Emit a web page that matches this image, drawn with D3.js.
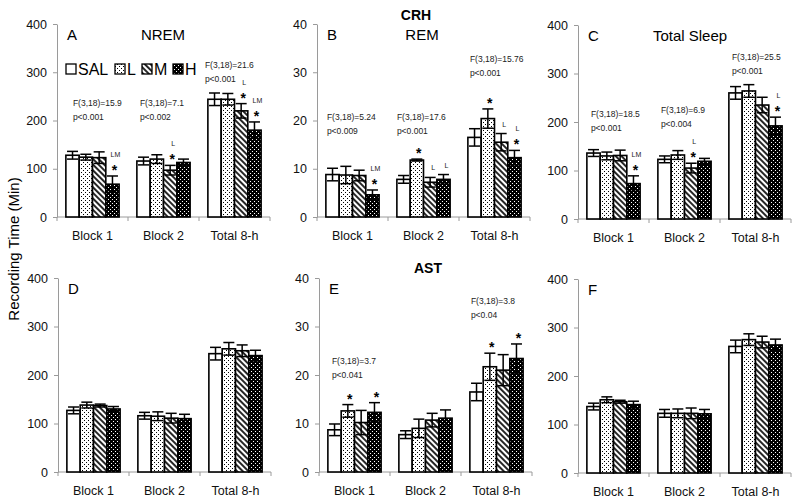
<!DOCTYPE html>
<html>
<head>
<meta charset="utf-8">
<script src="https://cdn.jsdelivr.net/npm/d3@7"></script>
<style>
  body { margin: 0; background: #fff; }
  svg { font-family: "Liberation Sans", Arial, sans-serif; }
</style>
</head>
<body>
<div id="chart"></div>
<script>
// ---- data ----
const groups = ["Block 1", "Block 2", "Total 8-h"];
const treatments = ["SAL", "L", "M", "H"];
const minTicks = [0, 100, 200, 300, 400];
const remTicks = [0, 10, 20, 30, 40];

// CRH
const crhNremMean  = [[128, 124, 123, 68], [116, 120, 97, 113], [244, 244, 220, 180]];
const crhNremErr   = [[8, 6, 12, 17], [8, 9, 10, 7], [13, 12, 15, 17]];
const crhRemMean   = [[8.8, 8.7, 8.6, 4.6], [7.8, 11.8, 7.2, 7.8], [16.5, 20.4, 15.5, 12.3]];
const crhRemErr    = [[1.3, 1.8, 1.1, 1.0], [0.8, 0.2, 1.0, 1.0], [1.8, 2.0, 1.8, 1.5]];
const crhSleepMean = [[136, 130, 131, 73], [123, 132, 105, 119], [260, 264, 235, 192]];
const crhSleepErr  = [[7, 8, 11, 16], [7, 9, 10, 6], [13, 13, 16, 18]];

// AST
const astNremMean  = [[127, 138, 137, 130], [116, 115, 111, 110], [244, 254, 250, 240]];
const astNremErr   = [[7, 6, 3, 5], [7, 9, 10, 9], [13, 13, 12, 11]];
const astRemMean   = [[8.7, 12.6, 10.2, 12.3], [7.7, 9.0, 10.7, 11.1], [16.5, 21.7, 21.0, 23.4]];
const astRemErr    = [[1.2, 1.3, 2.5, 2.0], [0.8, 1.9, 1.4, 1.7], [1.8, 2.8, 3.2, 3.0]];
const astSleepMean = [[137, 151, 147, 141], [123, 123, 123, 122], [261, 275, 270, 264]];
const astSleepErr  = [[7, 6, 3, 7], [8, 9, 11, 9], [13, 12, 12, 12]];

// ANOVA text per group
const crhNremStats  = [["F(3,18)=15.9", "p<0.001"], ["F(3,18)=7.1", "p<0.002"], ["F(3,18)=21.6", "p<0.001"]];
const crhRemStats   = [["F(3,18)=5.24", "p<0.009"], ["F(3,18)=17.6", "p<0.001"], ["F(3,18)=15.76", "p<0.001"]];
const crhSleepStats = [["F(3,18)=18.5", "p<0.001"], ["F(3,18)=6.9", "p<0.004"], ["F(3,18)=25.5", "p<0.001"]];
const astRemStats   = [["F(3,18)=3.7", "p<0.041"], null, ["F(3,18)=3.8", "p<0.04"]];

// significance marks per bar (letters = differs from those groups, * = differs from SAL)
const crhNremSig  = [["", "", "", "LM*"], ["", "", "L*", ""], ["", "", "L*", "LM*"]];
const crhRemSig   = [["", "", "", "LM*"], ["", "*", "L", "L"], ["", "*", "L", "L*"]];
const crhSleepSig = [["", "", "", "LM*"], ["", "", "L*", ""], ["", "", "", "L*"]];
const astRemSig   = [["", "*", "", "*"], ["", "", "", ""], ["", "*", "", "*"]];

// ---- layout ----
const panelW = 213;
const panels = [
  { letter: "A", name: "NREM", mean: crhNremMean, err: crhNremErr, ticks: minTicks,
    left: 57, top: 24, h: 193, nameX: 106, stats: crhNremStats, statTop: [79, 79, 41], statDx: [7, 3, -3], sig: crhNremSig },
  { letter: "B", name: "REM", mean: crhRemMean, err: crhRemErr, ticks: remTicks,
    left: 317, top: 24, h: 193, nameX: 105, stats: crhRemStats, statTop: [93, 93, 35], statDx: [1, 0, 2], sig: crhRemSig },
  { letter: "C", name: "Total Sleep", mean: crhSleepMean, err: crhSleepErr, ticks: minTicks,
    left: 578, top: 25, h: 194, nameX: 112, stats: crhSleepStats, statTop: [89, 85, 32], statDx: [4, 3, 3], sig: crhSleepSig },
  { letter: "D", name: "", mean: astNremMean, err: astNremErr, ticks: minTicks,
    left: 58, top: 278, h: 194 },
  { letter: "E", name: "", mean: astRemMean, err: astRemErr, ticks: remTicks,
    left: 319, top: 278, h: 194, stats: astRemStats, statTop: [83, 0, 23], statDx: [4, 0, 1], sig: astRemSig },
  { letter: "F", name: "", mean: astSleepMean, err: astSleepErr, ticks: minTicks,
    left: 578, top: 279, h: 194 }
];

const axisColor = "#9a9a9a";
const fills = { SAL: "#fff", L: "url(#pDots)", M: "url(#pHatch)", H: "url(#pDark)" };

const svg = d3.select("#chart").append("svg")
    .attr("width", 800)
    .attr("height", 503);

// ---- patterns ----
const defs = svg.append("defs");

let pDots = defs.append("pattern").attr("id", "pDots")
    .attr("patternUnits", "userSpaceOnUse").attr("width", 4).attr("height", 4);
pDots.append("rect").attr("width", 4).attr("height", 4).attr("fill", "#fff");
pDots.append("rect").attr("x", 0).attr("y", 0).attr("width", 1).attr("height", 1).attr("fill", "#000");
pDots.append("rect").attr("x", 2).attr("y", 2).attr("width", 1).attr("height", 1).attr("fill", "#000");

let pHatch = defs.append("pattern").attr("id", "pHatch")
    .attr("patternUnits", "userSpaceOnUse").attr("width", 4).attr("height", 4)
    .attr("patternTransform", "rotate(-45)");
pHatch.append("rect").attr("width", 4).attr("height", 4).attr("fill", "#fff");
pHatch.append("line").attr("x1", 2).attr("y1", 0).attr("x2", 2).attr("y2", 4)
    .attr("stroke", "#000").attr("stroke-width", 1.7);

let pDark = defs.append("pattern").attr("id", "pDark")
    .attr("patternUnits", "userSpaceOnUse").attr("width", 4).attr("height", 4);
pDark.append("rect").attr("width", 4).attr("height", 4).attr("fill", "#000");
pDark.append("rect").attr("x", 1).attr("y", 1).attr("width", 1).attr("height", 1).attr("fill", "#fff");
pDark.append("rect").attr("x", 3).attr("y", 3).attr("width", 1).attr("height", 1).attr("fill", "#fff");

// ---- panels ----
panels.forEach(p => drawPanel(p));

function drawPanel(p) {
    let g = svg.append("g").attr("transform", "translate(" + p.left + "," + p.top + ")");

    let x0 = d3.scaleBand().domain(groups).range([0, panelW]).paddingInner(0.25).paddingOuter(0.125);
    let x1 = d3.scaleBand().domain(treatments).range([0, x0.bandwidth()]);
    let y = d3.scaleLinear().domain([0, d3.max(p.ticks)]).range([p.h, 0]);

    // y axis
    let yAxis = d3.axisLeft(y).tickValues(p.ticks).tickSize(4).tickSizeOuter(0).tickPadding(6);
    let ya = g.append("g").attr("class", "y axis").call(yAxis);
    ya.select(".domain").attr("stroke", axisColor);
    ya.selectAll(".tick line").attr("stroke", axisColor);
    ya.selectAll(".tick text").attr("font-size", 12.5).attr("fill", "#111");

    // x axis with ticks at group boundaries
    let xa = g.append("g").attr("class", "x axis").attr("transform", "translate(0," + p.h + ")");
    xa.append("line").attr("x1", 0).attr("x2", panelW).attr("stroke", axisColor);
    xa.selectAll(".bound").data(d3.range(groups.length + 1)).enter().append("line")
        .attr("class", "bound")
        .attr("x1", i => i * x0.step()).attr("x2", i => i * x0.step())
        .attr("y1", 0).attr("y2", 4)
        .attr("stroke", axisColor);
    xa.selectAll(".glabel").data(groups).enter().append("text")
        .attr("class", "glabel")
        .attr("x", d => x0(d) + x0.bandwidth() / 2)
        .attr("y", 19)
        .attr("dy", "0.35em")
        .attr("text-anchor", "middle")
        .attr("font-size", 12.5)
        .attr("fill", "#111")
        .text(d => d);

    // bars
    let cells = [];
    p.mean.forEach((row, gi) => row.forEach((v, ti) => {
        cells.push({ group: groups[gi], trt: treatments[ti], value: v, err: p.err[gi][ti],
                     sig: p.sig ? p.sig[gi][ti] : "" });
    }));

    let bx = d => x0(d.group) + x1(d.trt);

    g.selectAll(".bar").data(cells).enter().append("rect")
        .attr("class", "bar")
        .attr("x", d => bx(d))
        .attr("y", d => y(d.value))
        .attr("width", x1.bandwidth())
        .attr("height", d => p.h - y(d.value))
        .attr("fill", d => fills[d.trt])
        .attr("stroke", "#000")
        .attr("stroke-width", 1.6);

    // error bars
    let eb = g.selectAll(".err").data(cells).enter().append("g").attr("class", "err")
        .attr("stroke", "#000").attr("stroke-width", 1.5);
    let cx = d => bx(d) + x1.bandwidth() / 2;
    eb.append("line")
        .attr("x1", cx).attr("x2", cx)
        .attr("y1", d => y(d.value + d.err)).attr("y2", d => y(d.value - d.err));
    eb.append("line")
        .attr("x1", d => cx(d) - 5.5).attr("x2", d => cx(d) + 5.5)
        .attr("y1", d => y(d.value + d.err)).attr("y2", d => y(d.value + d.err));
    eb.append("line")
        .attr("x1", d => cx(d) - 5.5).attr("x2", d => cx(d) + 5.5)
        .attr("y1", d => y(d.value - d.err)).attr("y2", d => y(d.value - d.err));

    // significance marks
    let marked = cells.filter(d => d.sig);
    marked.forEach(d => {
        let top = y(d.value + d.err);
        let hasStar = d.sig.indexOf("*") >= 0;
        let letters = d.sig.replace("*", "");
        if (hasStar) {
            g.append("text")
                .attr("x", cx(d) + 2).attr("y", top - 1)
                .attr("text-anchor", "middle")
                .attr("font-size", 14).attr("font-weight", "bold")
                .attr("fill", "#000")
                .text("*");
        }
        if (letters) {
            g.append("text")
                .attr("x", cx(d) + 3).attr("y", hasStar ? top - 19 : top - 7)
                .attr("text-anchor", "middle")
                .attr("font-size", 7)
                .attr("fill", "#222")
                .text(letters);
        }
    });

    // ANOVA text
    if (p.stats) {
        p.stats.forEach((lines, gi) => {
            if (!lines) return;
            let t = g.append("text")
                .attr("x", x0(groups[gi]) + p.statDx[gi])
                .attr("y", p.statTop[gi] + 3)
                .attr("font-size", 8.5)
                .attr("fill", "#222");
            lines.forEach((s, li) => {
                t.append("tspan")
                    .attr("x", x0(groups[gi]) + p.statDx[gi])
                    .attr("dy", li === 0 ? 0 : 13.5)
                    .text(s);
            });
        });
    }

    // panel letter and name
    g.append("text")
        .attr("x", 10).attr("y", 16)
        .attr("font-size", 15)
        .text(p.letter);
    if (p.name) {
        g.append("text")
            .attr("x", p.nameX).attr("y", 16)
            .attr("text-anchor", "middle")
            .attr("font-size", 15)
            .text(p.name);
    }
}

// ---- legend (panel A) ----
const legendX = [9, 58, 85, 116];
let legend = svg.append("g").attr("class", "legend").attr("transform", "translate(57,64)");
treatments.forEach((t, i) => {
    legend.append("rect")
        .attr("x", legendX[i]).attr("y", 0)
        .attr("width", 10).attr("height", 10)
        .attr("fill", fills[t])
        .attr("stroke", "#000").attr("stroke-width", 1.3);
    legend.append("text")
        .attr("x", legendX[i] + 12).attr("y", 11)
        .attr("font-size", 16)
        .text(t);
});

// ---- row titles and y label ----
svg.append("text")
    .attr("x", 416).attr("y", 20)
    .attr("text-anchor", "middle")
    .attr("font-size", 14).attr("font-weight", "bold")
    .text("CRH");
svg.append("text")
    .attr("x", 428).attr("y", 273)
    .attr("text-anchor", "middle")
    .attr("font-size", 14).attr("font-weight", "bold")
    .text("AST");

svg.append("text")
    .attr("transform", "translate(14,249) rotate(-90)")
    .attr("dy", "0.35em")
    .attr("text-anchor", "middle")
    .attr("font-size", 15)
    .text("Recording Time (Min)");
</script>
</body>
</html>
